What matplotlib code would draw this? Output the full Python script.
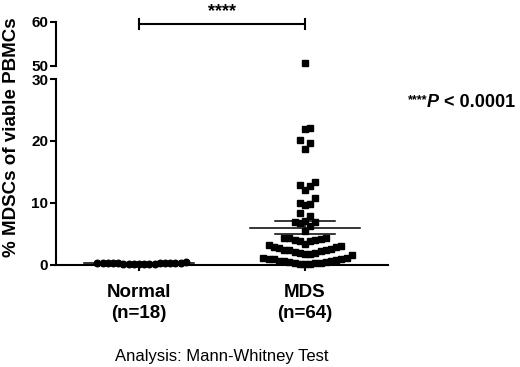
import numpy as np
import matplotlib
matplotlib.use("Agg")
from matplotlib import pyplot as plt

plt.rcParams['font.family'] = ['Liberation Sans', 'DejaVu Sans']

# data
groups = ['Normal\n(n=18)', 'MDS\n(n=64)']
normal = [0.2, 0.3, 0.3, 0.2, 0.3, 0.3, 0.2, 0.3, 0.2, 0.2, 0.3, 0.3, 0.2,
          0.3, 0.3, 0.4, 0.5, 0.2]
mds = [50.7, 22.1, 22.0, 20.2, 19.7, 18.7, 13.4, 12.9, 12.7, 12.1, 10.8,
       10.0, 9.8, 9.7, 8.4, 7.9, 7.1, 6.9, 6.9, 6.8, 6.3, 5.5,
       4.4, 4.4, 4.3, 4.2, 4.1, 4.0, 3.9, 3.8,
       3.4, 3.2, 3.1, 2.9, 2.9, 2.7, 2.6, 2.5, 2.4, 2.4, 2.2, 2.1, 2.0,
       1.9, 1.8, 1.7, 1.6,
       1.2, 1.1, 1.0, 0.9, 0.9, 0.8, 0.7, 0.6, 0.6, 0.5, 0.5, 0.4, 0.3,
       0.3, 0.2, 0.2, 0.1]
low_ticks = [0, 10, 20, 30]
high_ticks = [50, 60]
bracket_y = 59.5
sig_text = '****'

W, H = 520, 367
XPX = 166.0   # px per group unit
YPX = 6.2     # px per y unit (lower panel)
MS_PX = 6.5


def swarm(vals, size=MS_PX):
    # beeswarm: lowest values first, pushed outwards until free
    vals = np.asarray(vals, float)
    offs = np.zeros(len(vals))
    placed = []
    step = size * 0.4
    cands = [0.0]
    for j in range(1, 120):
        cands += [j * step, -j * step]
    for i in np.argsort(vals, kind='stable'):
        y = vals[i] * YPX
        for c in cands:
            if all(abs(c - px) >= size * 0.75 or abs(y - py) >= size * 1.45
                   for px, py in placed):
                break
        placed.append((c, y))
        offs[i] = c
    return offs / XPX


fig = plt.figure(figsize=(W / 100, H / 100), dpi=100)
left = 56 / W
width = 332 / W
ax = fig.add_axes([left, (H - 271.2) / H, width, (271.2 - 75.9) / H])
axt = fig.add_axes([left, (H - 68.2) / H, width, (68.2 - 17.6) / H])

lw = 1.5
for a in (ax, axt):
    for k, vals in enumerate([normal, mds]):
        xs = k + swarm(vals)
        mk = 'o' if k == 0 else 's'
        a.plot(xs, vals, mk, ms=4.7, color='black', ls='none')
        m = np.mean(vals)
        se = np.std(vals, ddof=1) / np.sqrt(len(vals))
        a.plot([k - 0.33, k + 0.33], [m, m], color='black', lw=1.1)
        a.plot([k - 0.18, k + 0.18], [m + se, m + se], color='black', lw=1.1)
        a.plot([k - 0.18, k + 0.18], [m - se, m - se], color='black', lw=1.1)
        a.plot([k, k], [m - se, m + se], color='black', lw=1.1)
    a.set_xlim(-0.5, 1.5)
    a.spines['top'].set_visible(False)
    a.spines['right'].set_visible(False)
    a.spines['left'].set_linewidth(lw)
    a.tick_params(axis='y', direction='out', length=4.5, width=lw, pad=1,
                  labelsize=11)

ax.set_ylim(-1, 30.5)
ax.spines['left'].set_bounds(0, 30)
ax.spines['bottom'].set_position(('data', 0))
ax.spines['bottom'].set_linewidth(lw)
ax.set_yticks(low_ticks)
ax.set_yticklabels([str(v) for v in low_ticks], fontweight='bold')
ax.set_xticks([0, 1])
ax.set_xticklabels(groups, fontsize=13.5, fontweight='bold')
ax.tick_params(axis='x', direction='out', length=4, width=lw, pad=10)
for t in ax.get_xticklabels():
    t.set_linespacing(1.25)

axt.set_ylim(49.5, 61)
axt.spines['left'].set_bounds(50, 60)
axt.spines['bottom'].set_visible(False)
axt.set_yticks(high_ticks)
axt.set_yticklabels([str(v) for v in high_ticks], fontweight='bold')
axt.set_xticks([])

# significance bracket
axt.plot([0, 1], [bracket_y, bracket_y], color='black', lw=lw, clip_on=False)
for k in (0, 1):
    axt.plot([k, k], [bracket_y - 1.1, bracket_y + 1.1], color='black',
             lw=lw, clip_on=False)
axt.text(0.5, 61.3, sig_text, ha='center', va='baseline', fontsize=13,
         fontweight='bold')

fig.text(12 / W, 1 - 137 / H, '% MDSCs of viable PBMCs', rotation=90,
         ha='center', va='center', fontsize=13.5, fontweight='bold')

tp = fig.text(427 / W, 1 - 107 / H, 'P', fontsize=13, fontweight='bold',
              fontstyle='italic', va='baseline')
plt.annotate(' < 0.0001', xy=(1, 0), xycoords=tp, va='bottom', ha='left',
             fontsize=13, fontweight='bold')
plt.annotate('****', xy=(0, 1), xycoords=tp, va='top', ha='right',
             fontsize=9, fontweight='bold')

fig.text(222 / W, 1 - 357 / H, 'Analysis: Mann-Whitney Test', ha='center',
         va='center', fontsize=12)

fig.savefig('out.png', dpi=100)
